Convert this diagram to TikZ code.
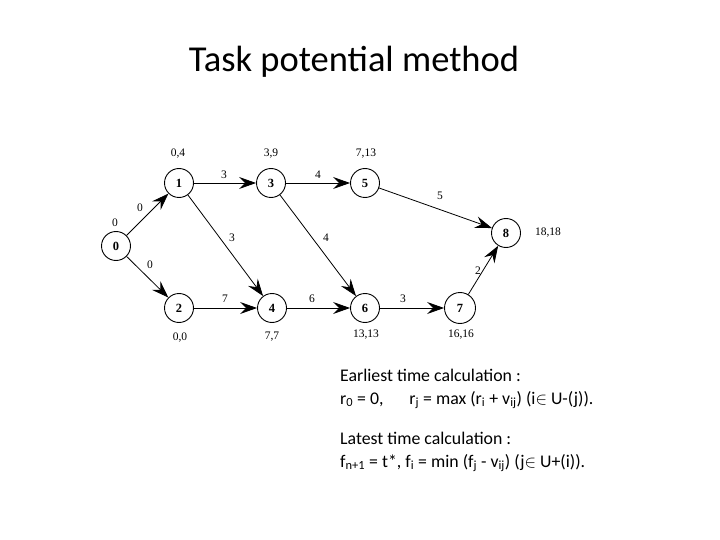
\documentclass[tikz,border=0pt]{standalone}
\usepackage{fontspec}
\setmainfont{Carlito}
\newfontfamily\timesf{Liberation Serif}
\usetikzlibrary{arrows.meta}
\tikzset{
  vtx/.style={circle,draw,line width=0.9pt,minimum size=29pt,inner sep=0pt,font=\timesf\bfseries\fontsize{12.5}{12}\selectfont},
  edge/.style={line width=0.8pt,-{Stealth[length=17pt,width=12pt,inset=6pt]}},
  wlab/.style={font=\timesf\fontsize{11.5}{12}\selectfont,inner sep=1pt},
  body/.style={font=\fontsize{17.8}{20}\selectfont,anchor=west,inner sep=0pt}
}
\begin{document}
\begin{tikzpicture}[x=1pt,y=-1pt]
\useasboundingbox (0,0) rectangle (720,540);
\node[font=\fontsize{36.5}{40}\selectfont] (title) at (354,62) {Task potential method};
% vertices
\node[vtx] (n0) at (116,246) {0};
\node[vtx] (n1) at (179,183) {1};
\node[vtx] (n3) at (271,183) {3};
\node[vtx] (n5) at (365,183) {5};
\node[vtx] (n8) at (506,233) {8};
\node[vtx] (n2) at (179,308) {2};
\node[vtx] (n4) at (272,308) {4};
\node[vtx] (n6) at (365,308) {6};
\node[vtx,minimum size=31pt] (n7) at (460,308) {7};
% time labels
\node[wlab] (t0) at (115,223) {0};
\node[wlab] (t1) at (178,154) {0,4};
\node[wlab] (t3) at (271,154) {3,9};
\node[wlab] (t5) at (366,154) {7,13};
\node[wlab] (t8) at (548,233) {18,18};
\node[wlab] (t2) at (180,338) {0,0};
\node[wlab] (t4) at (272,337) {7,7};
\node[wlab] (t6) at (366,335) {13,13};
\node[wlab] (t7) at (461,335) {16,16};
% edges
\draw[edge] (n0) -- (n1);
\draw[edge] (n0) -- (n2);
\draw[edge] (n1) -- (n3);
\draw[edge] (n1) -- (n4);
\draw[edge] (n3) -- (n5);
\draw[edge] (n3) -- (n6);
\draw[edge] (n5) -- (n8);
\draw[edge] (n2) -- (n4);
\draw[edge] (n4) -- (n6);
\draw[edge] (n6) -- (n7);
\draw[edge] (n7) -- (n8);
% edge weights
\node[wlab] (w01) at (140,208) {0};
\node[wlab] (w02) at (150,265) {0};
\node[wlab] (w13) at (224,175) {3};
\node[wlab] (w14) at (232,238) {3};
\node[wlab] (w35) at (318,175) {4};
\node[wlab] (w36) at (326,238) {4};
\node[wlab] (w58) at (440,196) {5};
\node[wlab] (w24) at (225,299) {7};
\node[wlab] (w46) at (312,299) {6};
\node[wlab] (w67) at (403,299) {3};
\node[wlab] (w78) at (478,271) {2};
% text
\node[body] (l1) at (340,375) {Earliest time calculation :};
\node[body] (l2) at (340,400) {r\textsubscript{0} = 0,\quad\ \ r\textsubscript{j} = max (r\textsubscript{i} + v\textsubscript{ij}) (i$\in$ U-(j)).};
\node[body] (l3) at (340,438) {Latest time calculation :};
\node[body] (l4) at (340,463) {f\textsubscript{n+1} = t*, f\textsubscript{i} = min (f\textsubscript{j} - v\textsubscript{ij}) (j$\in$ U+(i)).};
\end{tikzpicture}
\end{document}
